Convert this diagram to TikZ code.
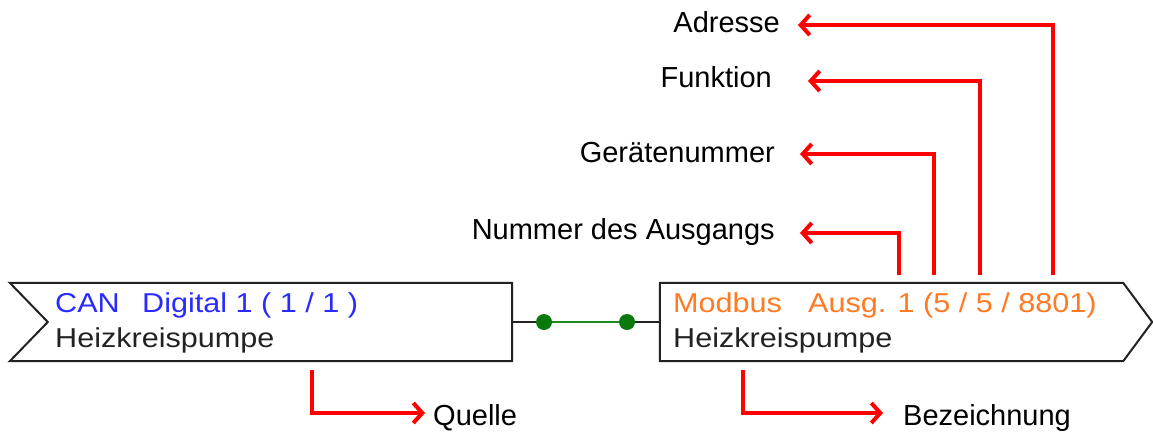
\documentclass[tikz,border=0pt]{standalone}
\usepackage{fontspec}
\setmainfont{Liberation Sans}
\newfontfamily\boxfont[FakeStretch=1.12]{Liberation Sans}
\usetikzlibrary{arrows.meta,calc}
\definecolor{canblue}{HTML}{2A2AFF}
\definecolor{modorange}{HTML}{FF7A22}
\definecolor{boxline}{HTML}{222222}
\definecolor{linkgreen}{HTML}{1E8C1E}
\definecolor{dotgreen}{HTML}{0A780A}
\tikzset{
  frame/.style={draw=none, minimum height=78pt, inner sep=0pt},
  outline/.style={draw=boxline, line width=2pt, line join=miter},
  boxtext/.style={font=\boxfont\fontsize{27.3}{30}\selectfont, inner sep=0pt, anchor=base west},
  label/.style={font=\fontsize{29}{32}\selectfont, inner sep=0pt, text=black},
  callout/.style={draw=red, line width=4pt, -{Straight Barb[length=9pt,width=20pt]}},
  joint/.style={circle, fill=dotgreen, inner sep=0pt, minimum size=16pt},
}
\begin{document}
\begin{tikzpicture}[x=1pt,y=-1pt]
\useasboundingbox (0,0) rectangle (1153,432);

% source and target blocks
\node[frame, minimum width=502pt] (src) at (261,322) {};
\node[frame, minimum width=463pt] (dst) at (891.5,322) {};
\draw[outline] (src.north west) -- (src.north east) -- (src.south east)
  -- (src.south west) -- ($(src.west)+(38,0)$) -- cycle;
\draw[outline] (dst.north west) -- (dst.north east) -- ($(dst.east)+(29,0)$)
  -- (dst.south east) -- (dst.south west) -- cycle;

% block texts
\node[boxtext, text=canblue] (srcA) at (55,312) {CAN};
\node[boxtext, text=canblue] (srcB) at (142,312) {Digital 1 ( 1 / 1 )};
\node[boxtext, text=boxline] (srcC) at (55,347) {Heizkreispumpe};
\node[boxtext, text=modorange] (dstA) at (673,312) {Modbus};
\node[boxtext, text=modorange] (dstB) at (808,312) {Ausg. 1 (5 / 5 / 8801)};
\node[boxtext, text=boxline] (dstC) at (673,347) {Heizkreispumpe};

% link between the blocks
\node[joint] (j1) at (544,322) {};
\node[joint] (j2) at (627,322) {};
\draw[boxline, line width=2pt] (src.east) -- (j1);
\draw[linkgreen, line width=2pt] (j1) -- (j2);
\draw[boxline, line width=2pt] (j2) -- (dst.west);

% labels
\node[label, anchor=base east] (adr) at (780,32) {Adresse};
\node[label, anchor=base east] (fkt) at (772,87) {Funktion};
\node[label, anchor=base east] (ger) at (775,162) {Gerätenummer};
\node[label, anchor=base east] (num) at (775,239) {Nummer des Ausgangs};
\node[label, anchor=base west] (que) at (433,425) {Quelle};
\node[label, anchor=base west] (bez) at (903,425) {Bezeichnung};

% callout start and end points
\coordinate (sNum) at (899,275);
\coordinate (sGer) at (934,275);
\coordinate (sFkt) at (980,275);
\coordinate (sAdr) at (1053,275);
\coordinate (tNum) at (800,233);
\coordinate (tGer) at (800,154);
\coordinate (tFkt) at (808,81);
\coordinate (tAdr) at (798,25);
\coordinate (sQue) at (312,370);
\coordinate (tQue) at (425,413);
\coordinate (sBez) at (743,370);
\coordinate (tBez) at (883,413);

\draw[callout] (sNum) |- (tNum);
\draw[callout] (sGer) |- (tGer);
\draw[callout] (sFkt) |- (tFkt);
\draw[callout] (sAdr) |- (tAdr);
\draw[callout] (sQue) |- (tQue);
\draw[callout] (sBez) |- (tBez);
\end{tikzpicture}
\end{document}
